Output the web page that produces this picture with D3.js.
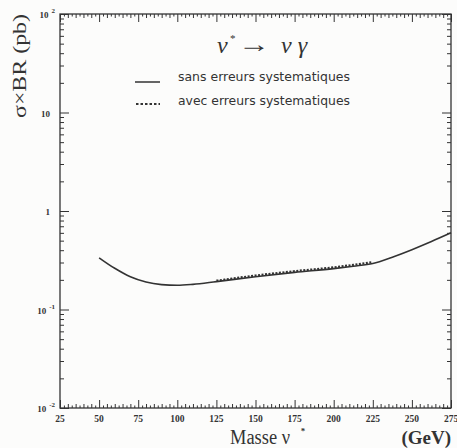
<!DOCTYPE html>
<html><head><meta charset="utf-8">
<script src="https://cdn.jsdelivr.net/npm/d3@7"></script>
<style>body{margin:0;background:#fcfcfb;} svg{display:block;}</style>
</head><body>
<script>
const massSans = [50, 60, 70, 80, 90, 100, 110, 125, 150, 175, 200, 212.5, 225, 237.5, 250, 262.5, 275];
const sigmaSans = [0.335, 0.262, 0.215, 0.19, 0.179, 0.176, 0.18, 0.192, 0.215, 0.238, 0.26, 0.275, 0.293, 0.34, 0.405, 0.49, 0.60];
const massAvec = [125, 150, 175, 200, 212.5, 225];
const sigmaAvec = [0.196, 0.221, 0.245, 0.268, 0.284, 0.303];
const xTicks = [25, 50, 75, 100, 125, 150, 175, 200, 225, 250, 275];
const yDecades = [0.01, 0.1, 1, 10, 100];
const yLabels = [["10","-2"],["10","-1"],["1",""],["10",""],["10","2"]];

const W = 457, H = 448;
const svg = d3.select("body").append("svg").attr("width", W).attr("height", H);
const L = 60, R = 451, T = 14, B = 408;
const x = d3.scaleLinear().domain([25, 275]).range([L, R]);
const y = d3.scaleLog().domain([0.01, 100]).range([B, T]);
const ink = "#333";

// frame
svg.append("rect").attr("x", L).attr("y", T).attr("width", R - L).attr("height", B - T)
  .attr("fill", "none").attr("stroke", ink).attr("stroke-width", 1.3);

// x ticks (bottom, inward) and top
const xMinor = d3.range(25, 275.01, 2.5);
function xTickLen(v){ return (Math.abs(v % 25) < 1e-6) ? 8 : (Math.abs(v % 5) < 1e-6 ? 4 : 2.5); }
const gxb = svg.append("g").attr("transform", `translate(0,${B})`)
  .call(d3.axisBottom(x).tickValues(xMinor).tickSizeInner(0).tickSizeOuter(0).tickFormat(""));
gxb.select(".domain").remove();
gxb.selectAll(".tick line").attr("y2", d => -xTickLen(d)).attr("stroke", ink).attr("stroke-width", 1);
const gxt = svg.append("g").attr("transform", `translate(0,${T})`)
  .call(d3.axisTop(x).tickValues(xMinor).tickSizeInner(0).tickSizeOuter(0).tickFormat(""));
gxt.select(".domain").remove();
gxt.selectAll(".tick line").attr("y2", d => xTickLen(d)).attr("stroke", ink).attr("stroke-width", 1);

// x labels
svg.append("g").selectAll("text").data(xTicks).join("text")
  .attr("x", d => x(d)).attr("y", B + 14).attr("text-anchor", "middle")
  .attr("font-family", "Liberation Serif, serif").attr("font-weight", "bold").attr("font-size", 9.5)
  .attr("fill", ink).text(d => d);

// y ticks
const yMinor = [];
[0.01, 0.1, 1, 10].forEach(d => { for (let k = 1; k <= 9; k++) yMinor.push(d * k); });
yMinor.push(100);
function yTickLen(v){ const l = Math.log10(v); return Math.abs(l - Math.round(l)) < 1e-6 ? 9 : 4; }
const gyl = svg.append("g").attr("transform", `translate(${L},0)`)
  .call(d3.axisLeft(y).tickValues(yMinor).tickSizeInner(0).tickSizeOuter(0).tickFormat(""));
gyl.select(".domain").remove();
gyl.selectAll(".tick line").attr("x2", d => yTickLen(d)).attr("stroke", ink).attr("stroke-width", 1);
const gyr = svg.append("g").attr("transform", `translate(${R},0)`)
  .call(d3.axisRight(y).tickValues(yMinor).tickSizeInner(0).tickSizeOuter(0).tickFormat(""));
gyr.select(".domain").remove();
gyr.selectAll(".tick line").attr("x2", d => -yTickLen(d)).attr("stroke", ink).attr("stroke-width", 1);

// y labels
const yl = svg.append("g").selectAll("text").data(yDecades).join("text")
  .attr("x", (d,i) => yLabels[i][1] ? 55 : 50).attr("y", d => y(d) + 4).attr("text-anchor", "end")
  .attr("font-family", "Liberation Serif, serif").attr("font-weight", "bold").attr("font-size", 9)
  .attr("fill", ink);
yl.each(function(d, i){
  const t = d3.select(this);
  t.append("tspan").text(yLabels[i][0]);
  if (yLabels[i][1]) t.append("tspan").attr("font-size", 7).attr("dx", 3).attr("dy", -5).text(yLabels[i][1]);
});

// y title
svg.append("text").attr("transform", "translate(26,66) rotate(-90)").attr("text-anchor", "middle")
  .attr("font-family", "Liberation Serif, serif").attr("font-size", 19).attr("fill", ink)
  .attr("textLength", 104).attr("lengthAdjust", "spacingAndGlyphs")
  .text("σ×BR (pb)");

// x title
svg.append("text").attr("x", 230).attr("y", 444)
  .attr("font-family", "Liberation Serif, serif").attr("font-size", 20).attr("fill", ink)
  .attr("textLength", 60).attr("lengthAdjust", "spacingAndGlyphs")
  .text("Masse ν");
svg.append("text").attr("x", 303).attr("y", 434).attr("text-anchor", "middle")
  .attr("font-family", "Liberation Serif, serif").attr("font-weight", "bold").attr("font-size", 9).attr("fill", ink).text("*");
svg.append("text").attr("x", 451).attr("y", 444).attr("text-anchor", "end")
  .attr("font-family", "Liberation Serif, serif").attr("font-weight", "bold").attr("font-size", 19).attr("fill", ink)
  .text("(GeV)");

// title
const tfont = "Liberation Serif, serif";
svg.append("text").attr("x", 217).attr("y", 53).attr("font-family", tfont).attr("font-style", "italic")
  .attr("font-size", 24).attr("fill", ink).text("ν");
svg.append("text").attr("x", 230).attr("y", 42).attr("font-family", tfont)
  .attr("font-size", 11).attr("fill", ink).text("*");
svg.append("text").attr("x", 238).attr("y", 52).attr("font-family", tfont)
  .attr("font-size", 24).attr("fill", ink).attr("textLength", 32).attr("lengthAdjust", "spacingAndGlyphs").text("→");
svg.append("text").attr("x", 281).attr("y", 53).attr("font-family", tfont).attr("font-style", "italic")
  .attr("font-size", 24).attr("fill", ink).text("ν γ");

// legend
svg.append("line").attr("x1", 135).attr("x2", 160).attr("y1", 82).attr("y2", 82).attr("stroke", ink).attr("stroke-width", 1.5);
svg.append("line").attr("x1", 136).attr("x2", 160).attr("y1", 104).attr("y2", 104).attr("stroke", ink).attr("stroke-width", 2).attr("stroke-dasharray", "2.5,2");
svg.append("text").attr("x", 178).attr("y", 81).attr("font-family", "DejaVu Sans, sans-serif").attr("font-size", 11.5).attr("fill", ink)
  .attr("textLength", 172).attr("lengthAdjust", "spacingAndGlyphs").text("sans erreurs systematiques");
svg.append("text").attr("x", 178).attr("y", 105).attr("font-family", "DejaVu Sans, sans-serif").attr("font-size", 11.5).attr("fill", ink)
  .attr("textLength", 172).attr("lengthAdjust", "spacingAndGlyphs").text("avec erreurs systematiques");

// curves
const line = d3.line().x(d => x(d[0])).y(d => y(d[1])).curve(d3.curveMonotoneX);
svg.append("path").datum(massAvec.map((m, i) => [m, sigmaAvec[i]])).attr("d", line)
  .attr("fill", "none").attr("stroke", ink).attr("stroke-width", 2.2).attr("stroke-dasharray", "2,1.5");
svg.append("path").datum(massSans.map((m, i) => [m, sigmaSans[i]])).attr("d", line)
  .attr("fill", "none").attr("stroke", ink).attr("stroke-width", 1.6);
</script>
</body></html>
